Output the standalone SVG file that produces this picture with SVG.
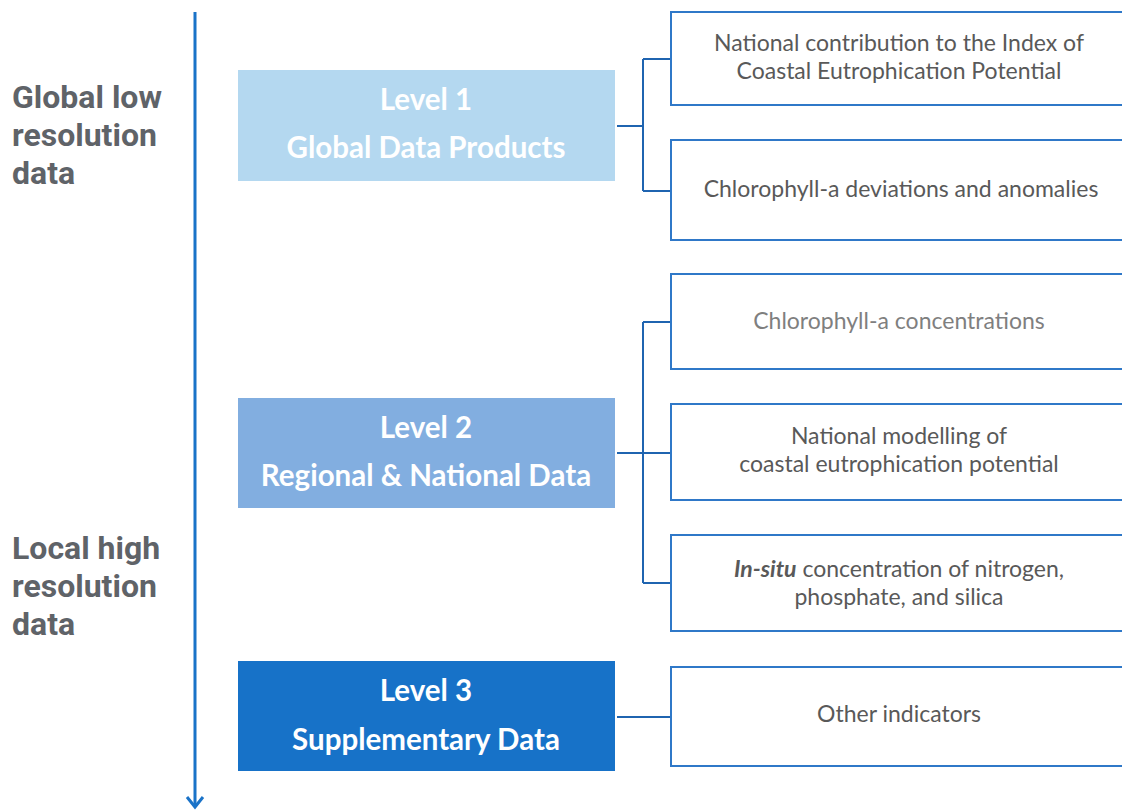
<svg xmlns="http://www.w3.org/2000/svg" width="1122" height="812" viewBox="0 0 1122 812">
<style>
.side{font-family:Roboto,"Liberation Sans",sans-serif;font-weight:700;font-size:32px;fill:#5f6368}
.lvl{font-family:Lato,"Open Sans",sans-serif;font-weight:700;font-size:29.5px;fill:#ffffff;text-anchor:middle}
.box{fill:#ffffff;stroke:#2f78c8;stroke-width:2}
.bt{font-family:Lato,"Open Sans",sans-serif;font-size:23px;fill:#595959;text-anchor:middle}
.con{fill:none;stroke:#1f64b0;stroke-width:2}
</style>
<rect width="1122" height="812" fill="#ffffff"/>
<g id="axis">
<line x1="195" y1="12" x2="195" y2="806" stroke="#1a73c8" stroke-width="3"/>
<path d="M187,797 L195,807 L203,797" fill="none" stroke="#1a73c8" stroke-width="3"/>
</g>
<g id="label-global">
<text class="side" x="12" y="108">Global low</text>
<text class="side" x="12" y="146">resolution</text>
<text class="side" x="12" y="184">data</text>
</g>
<g id="label-local">
<text class="side" x="12" y="559">Local high</text>
<text class="side" x="12" y="597">resolution</text>
<text class="side" x="12" y="635">data</text>
</g>
<g id="connectors">
<path class="con" d="M617,126 H643 M643,59 V191 M643,59 H671 M643,191 H671"/>
<path class="con" d="M617,453 H643 M643,322 V583 M643,322 H671 M643,453 H671 M643,583 H671"/>
<path class="con" d="M617,717 H671"/>
</g>
<g id="level1">
<rect x="238" y="70" width="377" height="111" fill="#b4d8f0"/>
<text class="lvl" x="426" y="110">Level 1</text>
<text class="lvl" x="426" y="158">Global Data Products</text>
</g>
<g id="level2">
<rect x="238" y="398" width="377" height="110" fill="#82aee0"/>
<text class="lvl" x="426" y="438">Level 2</text>
<text class="lvl" x="426" y="486">Regional &amp; National Data</text>
</g>
<g id="level3">
<rect x="238" y="661" width="377" height="110" fill="#1772c8"/>
<text class="lvl" x="426" y="701">Level 3</text>
<text class="lvl" x="426" y="750">Supplementary Data</text>
</g>
<g id="box1">
<rect class="box" x="671" y="12" width="460" height="93"/>
<text class="bt" x="899" y="51">National contribution to the Index of</text>
<text class="bt" x="899" y="79">Coastal Eutrophication Potential</text>
</g>
<g id="box2">
<rect class="box" x="671" y="140" width="460" height="100"/>
<text class="bt" x="901" y="197">Chlorophyll-a deviations and anomalies</text>
</g>
<g id="box3">
<rect class="box" x="671" y="274" width="460" height="95"/>
<text class="bt" x="899" y="329" style="fill:#7f7f7f">Chlorophyll-a concentrations</text>
</g>
<g id="box4">
<rect class="box" x="671" y="404" width="460" height="96"/>
<text class="bt" x="899" y="444">National modelling of</text>
<text class="bt" x="899" y="472">coastal eutrophication potential</text>
</g>
<g id="box5">
<rect class="box" x="671" y="535" width="460" height="96"/>
<text class="bt" x="899" y="577"><tspan font-weight="700" font-style="italic">In-situ</tspan> concentration of nitrogen,</text>
<text class="bt" x="899" y="605">phosphate, and silica</text>
</g>
<g id="box6">
<rect class="box" x="671" y="667" width="460" height="99"/>
<text class="bt" x="899" y="722">Other indicators</text>
</g>
</svg>
